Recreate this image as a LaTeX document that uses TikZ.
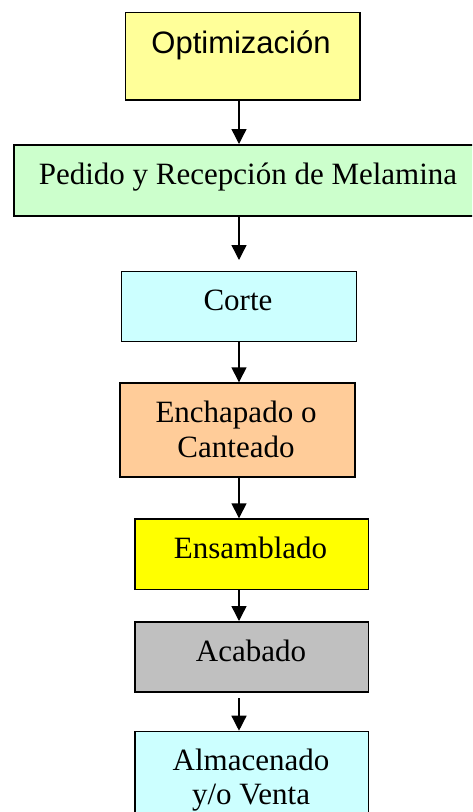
\documentclass[tikz,border=0pt]{standalone}
\usepackage{fontspec}
\setmainfont{Liberation Serif}
\newfontfamily\arialf{Liberation Sans}
\usetikzlibrary{arrows.meta}
\definecolor{cOpt}{HTML}{FFFF99}
\definecolor{cPed}{HTML}{CCFFCC}
\definecolor{cCor}{HTML}{CCFFFF}
\definecolor{cEnc}{HTML}{FFCC99}
\definecolor{cEns}{HTML}{FFFF00}
\definecolor{cAca}{HTML}{C0C0C0}
\begin{document}
\begin{tikzpicture}[x=1pt,y=-1pt,
  boxst/.style={draw=black,line width=1.5pt,rectangle,inner sep=0pt,anchor=north west},
  txt/.style={anchor=base,inner sep=0pt,font=\fontsize{31}{35.5}\selectfont},
  arr/.style={line width=1.4pt,-{Triangle[width=15pt,length=15pt]}}]
\useasboundingbox (0,0) rectangle (472,812);
\clip (0,0) rectangle (472,812);
\fill[white] (0,0) rectangle (472,812);
% boxes
\node[boxst,fill=cOpt,minimum width=234.6pt,minimum height=87.3pt] (opt) at (124.7,11.7) {};
\node[boxst,fill=cPed,minimum width=470pt,minimum height=71pt] (ped) at (13,144) {};
\node[boxst,fill=cCor,minimum width=235pt,minimum height=70pt] (cor) at (120.7,270.7) {};
\node[boxst,fill=cEnc,minimum width=234.7pt,minimum height=93.7pt] (enc) at (119.3,382.3) {};
\node[boxst,fill=cEns,minimum width=233.7pt,minimum height=70.4pt] (ens) at (134,518.3) {};
\node[boxst,fill=cAca,minimum width=233.7pt,minimum height=70.3pt] (aca) at (134,621) {};
\node[boxst,fill=cCor,minimum width=233.7pt,minimum height=120pt] (alm) at (134,730.7) {};
% texts
\node[txt,font=\arialf\fontsize{31}{35.5}\selectfont] (optT) at (241,53) {Optimización};
\node[txt] (pedT) at (248,184) {Pedido y Recepción de Melamina};
\node[txt] (corT) at (238,310) {Corte};
\node[txt] (encT1) at (236,422.3) {Enchapado o};
\node[txt] (encT2) at (236,457.3) {Canteado};
\node[txt] (ensT) at (250.5,558.3) {Ensamblado};
\node[txt] (acaT) at (251,661.7) {Acabado};
\node[txt] (almT1) at (251,770) {Almacenado};
\node[txt] (almT2) at (251,804) {y/o Venta};
% arrows
\coordinate (ax) at (239,0);
\draw[arr] (opt.south -| ax) -- (ped.north -| ax);
\draw[arr,shorten >=10.7pt] (ped.south -| ax) -- (cor.north -| ax);
\draw[arr] (cor.south -| ax) -- (enc.north -| ax);
\draw[arr] (enc.south -| ax) -- (ens.north -| ax);
\draw[arr] (ens.south -| ax) -- (aca.north -| ax);
\draw[arr,shorten <=5.4pt] (aca.south -| ax) -- (alm.north -| ax);
\end{tikzpicture}
\end{document}
